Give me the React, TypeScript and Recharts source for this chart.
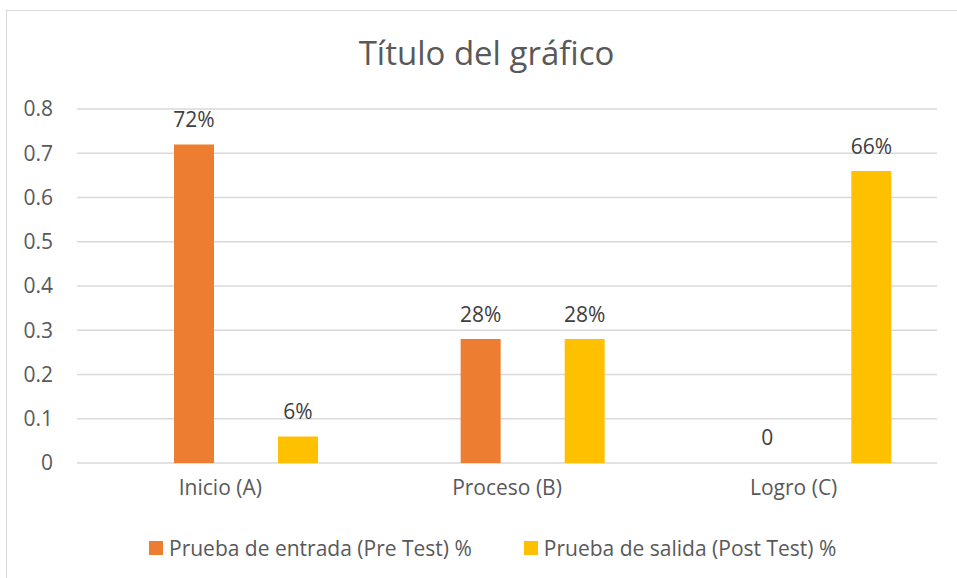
import { BarChart, Bar, XAxis, YAxis, CartesianGrid, Legend, LabelList, Rectangle } from "recharts";

const categories = ["Inicio (A)", "Proceso (B)", "Logro (C)"];
const preTest = [0.72, 0.28, 0];
const postTest = [0.06, 0.28, 0.66];
const yTicks = [0, 0.1, 0.2, 0.3, 0.4, 0.5, 0.6, 0.7, 0.8];

const PRE_NAME = "Prueba de entrada (Pre Test) %";
const POST_NAME = "Prueba de salida (Post Test) %";
const ORANGE = "#ED7D31";
const YELLOW = "#FFC000";
const FONT = "'Open Sans', sans-serif";

const data = categories.map((c, i) => ({ c, pre: preTest[i], post: postTest[i] }));

const fmtLabel = (v: any) => (Number(v) === 0 ? "0" : `${Math.round(Number(v) * 100)}%`);

// zero-valued bars get a 1px stub so their "0" label still renders; the stub itself is not drawn
const barShape = (key: "pre" | "post") => (props: any) =>
  props.payload && props.payload[key] === 0 ? <g /> : <Rectangle {...props} />;

function LegendBox() {
  const items = [
    { name: PRE_NAME, color: ORANGE },
    { name: POST_NAME, color: YELLOW },
  ];
  return (
    <div style={{ display: "flex", alignItems: "center", gap: 52, fontFamily: FONT, fontSize: 21, color: "#595959" }}>
      {items.map((it) => (
        <div key={it.name} style={{ display: "flex", alignItems: "center" }}>
          <span style={{ display: "inline-block", width: 14, height: 14, background: it.color, marginRight: 6 }} />
          <span>{it.name}</span>
        </div>
      ))}
    </div>
  );
}

export default function App() {
  return (
    <div style={{ position: "absolute", left: 0, top: 0, width: 957, height: 578, background: "#fff", overflow: "hidden" }}>
      <div
        style={{
          position: "absolute", left: 6, top: 10, width: 960, height: 600,
          border: "1px solid #D9D9D9", boxSizing: "border-box",
        }}
      />
      <div
        style={{
          position: "absolute", left: 0, top: 36, width: 973, textAlign: "center",
          fontFamily: FONT, fontSize: 33, lineHeight: 1, color: "#595959",
        }}
      >
        Título del gráfico
      </div>
      <div style={{ position: "absolute", left: 0, top: 0 }}>
        <BarChart
          width={957}
          height={578}
          data={data}
          margin={{ top: 109, right: 20, left: 0, bottom: 75 }}
          barSize={40}
          barGap={64}
        >
          <CartesianGrid stroke="#D9D9D9" strokeWidth={1.5} vertical={false} />
          <XAxis
            xAxisId="cats"
            dataKey="c"
            axisLine={false}
            tickLine={false}
            tickSize={0}
            tickMargin={17}
            height={40}
            tick={{ fill: "#595959", fontSize: 21, fontFamily: FONT }}
          />
          <XAxis xAxisId="bars" dataKey="c" orientation="top" hide padding={{ left: 26, right: -26 }} />
          <YAxis
            domain={[0, 0.8]}
            ticks={yTicks}
            width={77}
            axisLine={false}
            tickLine={false}
            tickSize={0}
            tickMargin={24}
            tick={{ fill: "#595959", fontSize: 21, fontFamily: FONT }}
          />
          <Legend
            verticalAlign="middle"
            content={<LegendBox />}
            wrapperStyle={{ top: 534, left: 149, width: "auto" }}
          />
          <Bar xAxisId="bars" dataKey="pre" name={PRE_NAME} fill={ORANGE} minPointSize={1} shape={barShape("pre")} isAnimationActive={false}>
            <LabelList dataKey="pre" position="top" offset={17} formatter={fmtLabel} fill="#404040" fontSize={21} fontFamily={FONT} />
          </Bar>
          <Bar xAxisId="bars" dataKey="post" name={POST_NAME} fill={YELLOW} minPointSize={1} shape={barShape("post")} isAnimationActive={false}>
            <LabelList dataKey="post" position="top" offset={17} formatter={fmtLabel} fill="#404040" fontSize={21} fontFamily={FONT} />
          </Bar>
        </BarChart>
      </div>
    </div>
  );
}
